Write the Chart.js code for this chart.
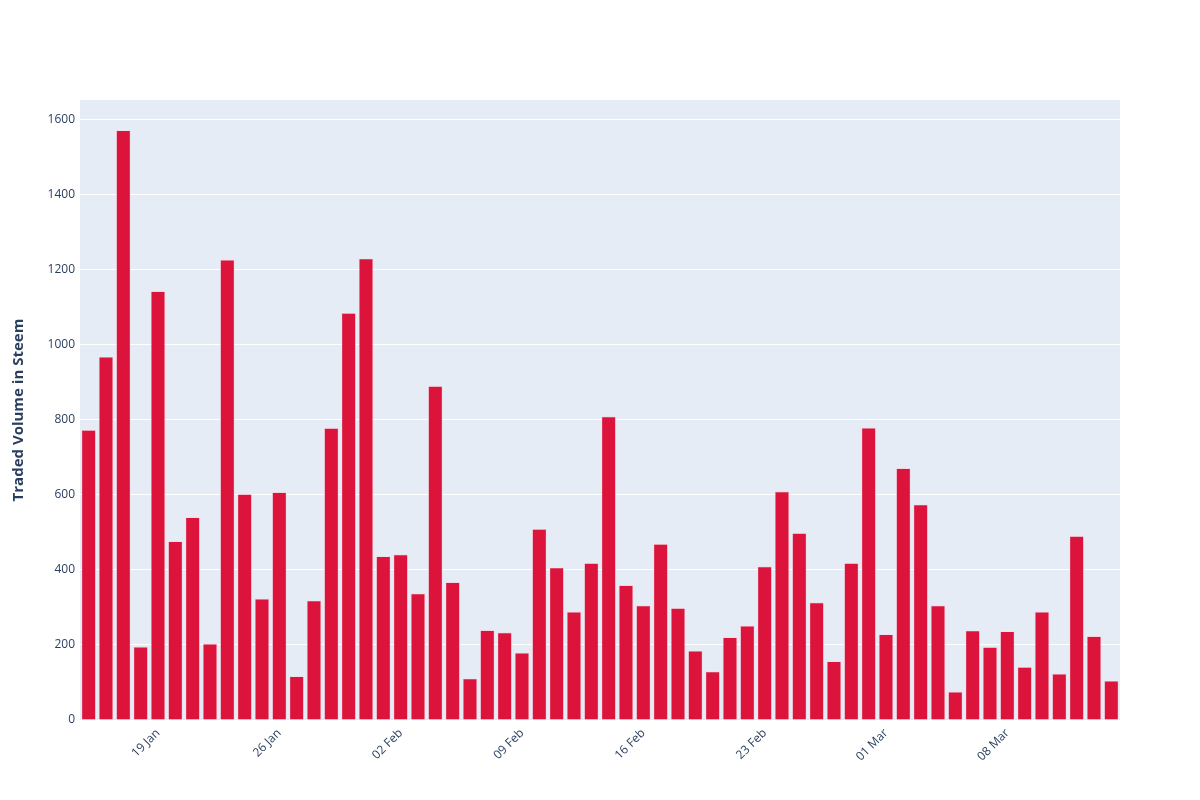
<!DOCTYPE html>
<html>
<head>
<meta charset="utf-8">
<script src="https://cdn.jsdelivr.net/npm/chart.js@4/dist/chart.umd.min.js"></script>
<style>
  html, body { margin: 0; padding: 0; background: #fff; }
  #wrap { width: 1200px; height: 800px; }
</style>
</head>
<body>
<div id="wrap"><canvas id="volumeChart" width="1200" height="800"></canvas></div>
<script>
// one bar per day, 15 Jan - 14 Mar
var dayLabels = [
    "15 Jan","16 Jan","17 Jan","18 Jan","19 Jan","20 Jan","21 Jan","22 Jan","23 Jan","24 Jan",
    "25 Jan","26 Jan","27 Jan","28 Jan","29 Jan","30 Jan","31 Jan","01 Feb","02 Feb","03 Feb",
    "04 Feb","05 Feb","06 Feb","07 Feb","08 Feb","09 Feb","10 Feb","11 Feb","12 Feb","13 Feb",
    "14 Feb","15 Feb","16 Feb","17 Feb","18 Feb","19 Feb","20 Feb","21 Feb","22 Feb","23 Feb",
    "24 Feb","25 Feb","26 Feb","27 Feb","28 Feb","29 Feb","01 Mar","02 Mar","03 Mar","04 Mar",
    "05 Mar","06 Mar","07 Mar","08 Mar","09 Mar","10 Mar","11 Mar","12 Mar","13 Mar","14 Mar"
];
var volumeSteem = [
    773, 968, 1572, 195, 1143, 476, 540, 203, 1227, 602,
    323, 607, 116, 318, 778, 1085, 1230, 436, 441, 337,
    890, 367, 110, 239, 233, 179, 509, 406, 288, 418,
    809, 359, 305, 469, 298, 184, 129, 220, 251, 409,
    609, 498, 313, 156, 418, 779, 228, 671, 574, 305,
    75, 238, 194, 236, 141, 288, 123, 490, 223, 104
];
var xTickLabels = ["19 Jan", "26 Jan", "02 Feb", "09 Feb", "16 Feb", "23 Feb", "01 Mar", "08 Mar"];
var yMax = 1653;

var tickColor = "#2a3f5f";

// plot background like plotly
var plotBg = {
    id: "plotBg",
    beforeDraw: function (chart) {
        var a = chart.chartArea;
        var ctx = chart.ctx;
        ctx.save();
        ctx.fillStyle = "#E5ECF6";
        ctx.fillRect(a.left, a.top, a.right - a.left, a.bottom - a.top);
        ctx.restore();
    }
};

var ctx = document.getElementById("volumeChart").getContext("2d");
var chart = new Chart(ctx, {
    type: "bar",
    data: {
        labels: dayLabels,
        datasets: [{
            label: "Traded Volume",
            data: volumeSteem,
            backgroundColor: "#DC143C",
            borderColor: "rgba(255,190,205,0.9)",
            borderWidth: 0.6,
            barPercentage: 0.82,
            categoryPercentage: 1.0
        }]
    },
    options: {
        responsive: false,
        animation: false,
        layout: { padding: { top: 100, right: 80, left: 0, bottom: 0 } },
        plugins: {
            legend: { display: false },
            tooltip: { enabled: false }
        },
        scales: {
            x: {
                offset: true,
                grid: { display: false, drawTicks: false },
                border: { display: false },
                ticks: {
                    autoSkip: false,
                    maxRotation: 45,
                    minRotation: 45,
                    padding: 6,
                    color: tickColor,
                    font: { family: "'Open Sans', sans-serif", size: 12 },
                    callback: function (value, index) {
                        var l = dayLabels[index];
                        return xTickLabels.indexOf(l) >= 0 ? l : "";
                    }
                },
                afterFit: function (axis) { axis.height = 80; }
            },
            y: {
                min: 0,
                max: yMax,
                grid: { color: "#ffffff", lineWidth: 1, drawTicks: false },
                border: { display: false },
                ticks: {
                    stepSize: 200,
                    padding: 5,
                    color: tickColor,
                    font: { family: "'Open Sans', sans-serif", size: 12 },
                    callback: function (value) { return String(value); }
                },
                afterBuildTicks: function (axis) {
                    axis.ticks = axis.ticks.filter(function (t) { return t.value % 200 === 0; });
                },
                title: {
                    display: true,
                    text: "Traded Volume in Steem",
                    color: tickColor,
                    padding: { top: 10, bottom: 0 },
                    font: { family: "'Open Sans', sans-serif", size: 15, weight: "bold" }
                },
                afterFit: function (axis) { axis.width = 80; }
            }
        }
    },
    plugins: [plotBg]
});
</script>
</body>
</html>
